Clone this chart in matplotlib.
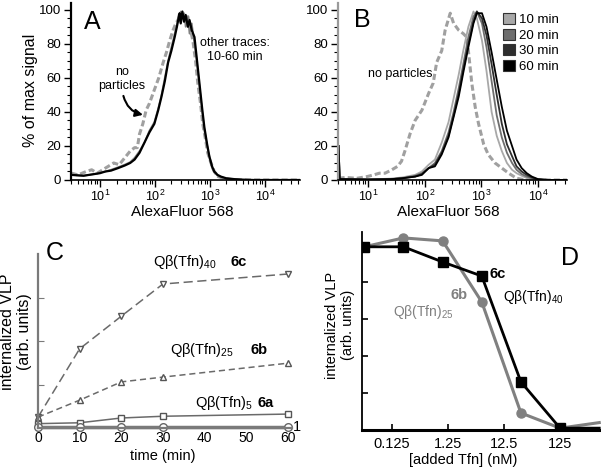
import numpy as np
import matplotlib
matplotlib.use("Agg")
import matplotlib.pyplot as plt
from matplotlib.patches import Patch
from matplotlib.ticker import LogLocator, NullFormatter, NullLocator, MultipleLocator, FixedLocator

plt.rcParams["font.family"] = ["Liberation Sans", "DejaVu Sans"]
plt.rcParams["mathtext.fontset"] = "custom"
plt.rcParams["mathtext.rm"] = "Liberation Sans"
plt.rcParams["mathtext.it"] = "Liberation Sans:italic"
plt.rcParams["mathtext.bf"] = "Liberation Sans:bold"
plt.rcParams["mathtext.default"] = "regular"

# ---- panel A: flow histograms, x given as log10(AlexaFluor 568) ----
a_log = [0.48, 0.7, 0.9, 1.0, 1.1, 1.2, 1.33, 1.45, 1.55, 1.63, 1.72, 1.81, 1.9, 1.99,
         2.06, 2.12, 2.18, 2.24, 2.3, 2.36, 2.4, 2.43, 2.45, 2.47, 2.5, 2.53, 2.56, 2.6,
         2.63, 2.67, 2.72, 2.76, 2.81, 2.86, 2.9, 2.95, 2.99, 3.04, 3.08, 3.14, 3.2, 3.3,
         3.45, 3.6, 3.8, 4.64]
a_black = [3, 2.5, 3.5, 4, 5, 5.5, 7, 8.5, 10, 12, 16, 22, 28, 33,
           41, 49, 58, 69, 76, 84, 90, 95, 98, 92, 99, 93, 97, 90,
           94, 88, 84, 72, 57, 42, 31, 21, 14, 8, 5, 3, 2, 1,
           0.5, 0.2, 0, 0]
a_other = [3, 2.5, 3.5, 4.5, 5, 6, 7.5, 9, 10.5, 13, 17, 22, 29, 34,
           42, 50, 60, 70, 78, 86, 91, 97, 93, 99, 95, 98, 90, 96,
           86, 92, 80, 70, 55, 40, 29, 20, 13, 7, 4.5, 2.5, 1.5, 0.8,
           0.4, 0.1, 0, 0]
a_np_log = [0.48, 0.6, 0.75, 0.85, 0.95, 1.05, 1.15, 1.25, 1.35, 1.45, 1.55, 1.63, 1.68,
            1.72, 1.78, 1.84, 1.9, 1.99, 2.07, 2.15, 2.21, 2.27, 2.33, 2.38, 2.42, 2.47,
            2.51, 2.56, 2.6, 2.65, 2.69, 2.74, 2.78, 2.83, 2.87, 2.92, 2.96, 3.02, 3.08,
            3.15, 3.25, 3.4, 3.6, 4.64]
a_np = [4, 3, 5, 6, 4, 6, 8, 10, 9, 13, 17, 19, 19,
        27, 33, 41, 45, 53, 60, 69, 75, 82, 88, 92, 94, 98,
        97, 95, 96, 88, 82, 70, 57, 45, 33, 24, 16, 10, 5,
        2, 1, 0.3, 0, 0]

# ---- panel B ----
b_log = [0.48, 0.5, 1.0, 1.4, 1.6, 1.83, 1.95, 2.07, 2.18, 2.3, 2.42, 2.51, 2.6, 2.68,
         2.77, 2.86, 2.92, 3.01, 3.09, 3.18, 3.27, 3.36, 3.45, 3.54, 3.62, 3.71, 3.8,
         3.89, 4.0, 4.2, 4.51]
b_10 = [1, 0.5, 0.3, 0.8, 1.5, 3, 5, 9, 12, 22, 34, 48, 62, 76,
        90, 99, 95, 82, 64, 40, 26, 17, 10, 6, 4, 2.5, 1.2,
        0.5, 0.2, 0, 0]
b_20 = [20, 0.5, 0.3, 0.5, 1, 2.5, 4, 7, 10, 17, 28, 40, 54, 68,
        84, 96, 99, 92, 78, 58, 38, 25, 16, 10, 6, 3.5, 2,
        1, 0.3, 0, 0]
b_30 = [20, 0.5, 0.3, 0.5, 1, 2, 3.5, 7, 9, 16, 26, 38, 51, 65,
        80, 93, 99, 95, 85, 68, 50, 33, 21, 14, 8, 5, 3,
        1.5, 0.3, 0, 0]
b_60 = [20, 0.5, 0.3, 0.5, 1, 2, 3, 7, 8, 15, 25, 37, 49, 63,
        78, 92, 98, 98, 90, 75, 59, 43, 29, 20, 12, 7, 4,
        2, 0.5, 0, 0]
b_np_log = [0.48, 0.6, 0.8, 0.98, 1.1, 1.2, 1.3, 1.42, 1.52, 1.59, 1.65, 1.74, 1.83,
            1.95, 2.07, 2.15, 2.21, 2.3, 2.36, 2.45, 2.51, 2.6, 2.68, 2.74, 2.77, 2.83,
            2.89, 2.95, 3.04, 3.12, 3.24, 3.36, 3.48, 3.62, 3.8, 4.51]
b_np = [1, 1.5, 1, 2, 3, 4, 4, 6, 8, 11, 17, 27, 35,
        41, 51, 57, 69, 76, 88, 98, 92, 88, 86, 84, 76, 57,
        43, 33, 21, 15, 10, 7, 4, 1, 0, 0]
b_labels = ["10 min", "20 min", "30 min", "60 min"]
b_colors = ["#a8a8a8", "#6e6e6e", "#2e2e2e", "#000000"]

# ---- panel C ----
c_time = [0, 10, 20, 30, 60]
c_6c = [0.25, 1.82, 2.57, 3.31, 3.54]
c_6b = [0.25, 0.64, 1.06, 1.17, 1.49]
c_6a = [0.1, 0.12, 0.23, 0.27, 0.32]
c_1 = [0.02, 0.02, 0.02, 0.02, 0.02]

# ---- panel D ----
d_conc = [0.04, 0.2, 1, 5, 25, 125, 625]
d_6c = [4.95, 4.95, 4.54, 4.16, 1.30, 0.05, 0.05]
d_6b = [4.95, 5.19, 5.11, 3.46, 0.46, 0.05, 0.2]
d_ticks = [0.125, 1.25, 12.5, 125]

W, H = 601, 470


def box(l, t, r, b):
    return [l / W, 1 - b / H, (r - l) / W, (b - t) / H]


def ftxt(x, y, s, **kw):
    kw.setdefault("ha", "center")
    kw.setdefault("va", "center")
    fig.text(x / W, 1 - y / H, s, **kw)


fig = plt.figure(figsize=(W / 100, H / 100), dpi=100)


def hist_axes(ax, x0, x1, spine_col):
    ax.set_xscale("log")
    ax.set_xlim(10 ** x0, 10 ** x1)
    ax.set_ylim(0, 104)
    for s in ["top", "right"]:
        ax.spines[s].set_visible(False)
    ax.spines["left"].set_color(spine_col)
    ax.spines["left"].set_linewidth(1.6)
    ax.spines["bottom"].set_linewidth(1.2)
    ax.set_yticks([0, 20, 40, 60, 80, 100])
    ax.yaxis.set_minor_locator(MultipleLocator(5))
    ax.xaxis.set_major_locator(LogLocator(base=10))
    ax.xaxis.set_minor_locator(LogLocator(base=10, subs=np.arange(2, 10)))
    ax.xaxis.set_minor_formatter(NullFormatter())
    ax.tick_params(which="major", length=5, width=1, labelsize=9.5, pad=2)
    ax.tick_params(axis="x", which="major", labelsize=9, pad=1)
    ax.tick_params(which="minor", length=3, width=0.8)


axA = fig.add_axes(box(71, 3, 300, 180))
hist_axes(axA, 0.473, 4.64, "black")
axA.plot(10 ** np.array(a_np_log), a_np, color="#a0a0a0", lw=2.2, ls=(0, (2, 1)))
axA.plot(10 ** np.array(a_log), a_other, color="#808080", lw=1.3)
axA.plot(10 ** np.array(a_log), a_black, color="black", lw=1.6)
axA.annotate("", xy=(68, 38), xytext=(26, 51),
             arrowprops=dict(arrowstyle="-|>", connectionstyle="arc3,rad=0.35",
                             color="black", lw=1.5, mutation_scale=11))
ftxt(30, 90, "% of max signal", rotation=90, fontsize=11.5)
ftxt(182, 212, "AlexaFluor 568", fontsize=11)
ftxt(92, 22, "A", fontsize=18)
ftxt(235, 50, "other traces:\n10-60 min", fontsize=9)
ftxt(122, 79, "no\nparticles", fontsize=9)

axB = fig.add_axes(box(338, 3, 567, 180))
hist_axes(axB, 0.47, 4.51, "#9a9a9a")
axB.plot(10 ** np.array(b_np_log), b_np, color="#a0a0a0", lw=2.2, ls=(0, (2, 1)))
for vals, col in zip([b_10, b_20, b_30, b_60], b_colors):
    axB.plot(10 ** np.array(b_log), vals, color=col, lw=1.3)
handles = [Patch(facecolor=c, edgecolor="#333333", lw=0.8) for c in b_colors]
fig.legend(handles, b_labels, loc="upper left", bbox_to_anchor=(503 / W, 1 - 13 / H),
           frameon=False, fontsize=9.5, handlelength=0.9, handleheight=0.9,
           handletextpad=0.3, labelspacing=0.2, borderpad=0, borderaxespad=0)
ftxt(448, 212, "AlexaFluor 568", fontsize=11)
ftxt(362, 20, "B", fontsize=18)
ftxt(368, 74, "no particles", fontsize=9, ha="left")

axC = fig.add_axes(box(38, 254, 292, 428))
axC.set_xlim(0, 61)
axC.set_ylim(0, 4)
for s in ["top", "right"]:
    axC.spines[s].set_visible(False)
for s in ["left", "bottom"]:
    axC.spines[s].set_color("#7a7a7a")
    axC.spines[s].set_linewidth(1.6)
axC.plot(c_time, c_6c, color="#6a6a6a", lw=1.1, ls=(0, (6, 3)), marker="v", ms=4.5,
         mfc="white", mec="#555555", clip_on=False)
axC.plot(c_time, c_6b, color="#6a6a6a", lw=1.1, ls=(0, (4, 2.5)), marker="^", ms=4.5,
         mfc="white", mec="#555555", clip_on=False)
axC.plot(c_time, c_6a, color="#6a6a6a", lw=1.1, marker="s", ms=4.5,
         mfc="white", mec="#555555", clip_on=False)
axC.plot(c_time, c_1, color="#7a7a7a", lw=2.5, marker="o", ms=5.5,
         mfc="white", mec="#666666", clip_on=False)
axC.set_xticks([0, 10, 20, 30, 40, 50, 60])
axC.set_yticks([1, 2, 3])
axC.set_yticklabels([])
axC.tick_params(axis="x", length=0, labelsize=10, pad=2)
axC.tick_params(axis="y", direction="in", length=4, color="#7a7a7a")
txtC = dict(fontsize=10.5, va="center", ha="left", clip_on=False)
axC.text(27.6, 3.82, "Qβ(Tfn)$_{40}$", **txtC)
axC.text(46.2, 3.82, "6c", fontweight="bold", **txtC)
axC.text(31.7, 1.79, "Qβ(Tfn)$_{25}$", **txtC)
axC.text(51.0, 1.79, "6b", fontweight="bold", **txtC)
axC.text(37.7, 0.57, "Qβ(Tfn)$_{5}$", **txtC)
axC.text(52.6, 0.57, "6a", fontweight="bold", **txtC)
axC.text(61.3, 0.02, "1", **txtC)
ftxt(16, 332, "internalized VLP\n(arb. units)", rotation=90, fontsize=11.5,
     linespacing=1.1)
ftxt(163, 456, "time (min)", fontsize=10.5)
ftxt(55, 253, "C", fontsize=18)

axD = fig.add_axes(box(362, 232, 601, 430))
axD.set_xscale("log")
axD.set_xlim(0.0364, 672)
axD.set_ylim(0, 5.35)
for s in ["top", "right"]:
    axD.spines[s].set_visible(False)
axD.spines["left"].set_linewidth(1.3)
axD.spines["bottom"].set_linewidth(2.2)
axD.plot(d_conc, d_6b, color="#808080", lw=2.2, marker="o", ms=6.5, markevery=list(range(6)))
axD.plot(d_conc, d_6c, color="black", lw=2.0, marker="s", ms=7.8, markevery=list(range(6)))
axD.xaxis.set_major_locator(FixedLocator(d_ticks))
axD.xaxis.set_minor_locator(NullLocator())
axD.set_xticklabels([str(t) for t in d_ticks])
axD.set_yticks([0, 1, 2, 3, 4, 5])
axD.set_yticklabels([])
axD.tick_params(direction="in", length=4, width=1.2, labelsize=10.5, pad=5)
axD.text(7.0, 4.22, "6c", fontsize=10.5, fontweight="bold", va="center", ha="left")
axD.text(12, 3.6, "Qβ(Tfn)$_{40}$", fontsize=10, va="center", ha="left")
axD.text(1.36, 3.65, "6b", fontsize=10.5, fontweight="bold", color="#808080",
         va="center", ha="left")
axD.text(0.13, 3.19, "Qβ(Tfn)$_{25}$", fontsize=10, color="#808080", va="center", ha="left")
ftxt(340, 325, "internalized VLP\n(arb. units)", rotation=90, fontsize=10.5,
     linespacing=1.1)
ftxt(463, 460, "[added Tfn] (nM)", fontsize=10.5)
ftxt(570, 258, "D", fontsize=18)

fig.savefig("out.png", dpi=100)
